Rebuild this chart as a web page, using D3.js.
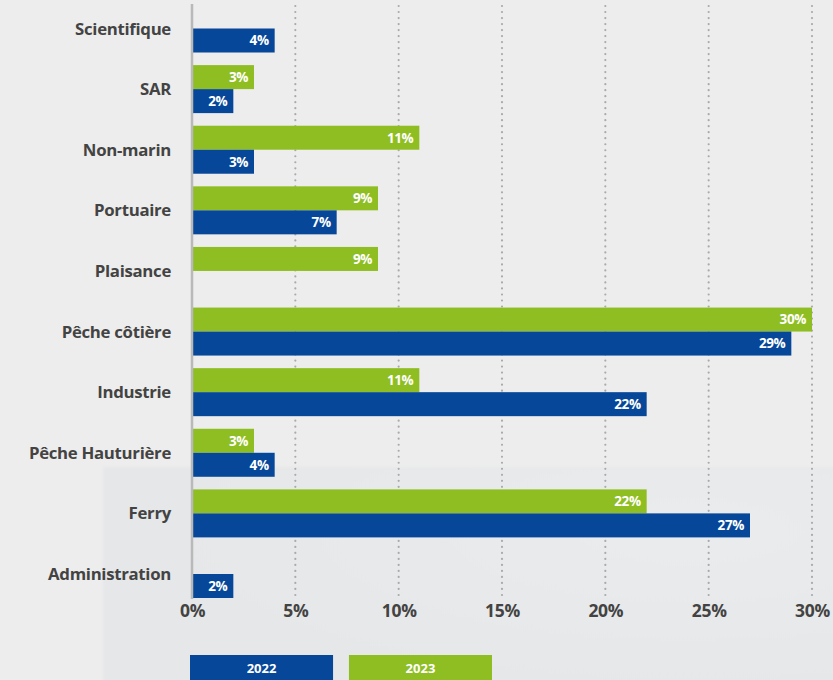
<!DOCTYPE html>
<html>
<head>
<meta charset="utf-8">
<script src="https://cdn.jsdelivr.net/npm/d3@7"></script>
<style>
  html, body { margin: 0; padding: 0; background: #ededed; }
  svg { display: block; }
  text { font-family: "Open Sans", "Noto Sans", sans-serif; font-weight: 700; }
</style>
</head>
<body>
<svg id="chart" width="833" height="680"></svg>
<script>
// Répartition par secteur, 2022 et 2023 (en %)
const categories = ["Scientifique", "SAR", "Non-marin", "Portuaire", "Plaisance",
  "Pêche côtière", "Industrie", "Pêche Hauturière", "Ferry", "Administration"];
const values2023 = [null, 3, 11, 9, 9, 30, 11, 3, 22, null];
const values2022 = [4, 2, 3, 7, null, 29, 22, 4, 27, 2];
const years = ["2022", "2023"];
const xTicks = [0, 5, 10, 15, 20, 25, 30];

const blue = "#06479a";
const green = "#8fbe22";

const svg = d3.select("#chart");
const W = 833, H = 680;

// background with a faint panel in the lower part
const defs = svg.append("defs");
const grad = defs.append("radialGradient").attr("id", "haze")
  .attr("cx", "0.8").attr("cy", "0.3").attr("r", "0.7");
grad.append("stop").attr("offset", "0").attr("stop-color", "#eaebec");
grad.append("stop").attr("offset", "1").attr("stop-color", "#e6e7e8");
defs.append("filter").attr("id", "soft").append("feGaussianBlur").attr("stdDeviation", 1.5);
svg.append("rect").attr("width", W).attr("height", H).attr("fill", "#ededed");
svg.append("rect").attr("x", 103).attr("y", 467).attr("width", W - 100).attr("height", H - 464)
  .attr("fill", "url(#haze)").attr("filter", "url(#soft)");

const x = d3.scaleLinear().domain([0, 30]).range([192, 812]);
const y = d3.scaleBand().domain(categories).range([4.5, 598]).paddingInner(0.208).paddingOuter(0);
const sub = d3.scaleBand().domain(["2023", "2022"]).range([0, y.bandwidth()]);

// dotted vertical gridlines
svg.append("g").selectAll("line").data(xTicks.filter(d => d > 0)).join("line")
  .attr("x1", d => x(d)).attr("x2", d => x(d))
  .attr("y1", 6).attr("y2", 598)
  .attr("stroke", "#a9aaac").attr("stroke-width", 2.2)
  .attr("stroke-linecap", "round")
  .attr("stroke-dasharray", "0.01,6");

// bars
const rows = categories.map((c, i) => ({ c, v23: values2023[i], v22: values2022[i] }));
const series = [
  { key: "2023", color: green, get: d => d.v23 },
  { key: "2022", color: blue, get: d => d.v22 }
];
series.forEach(s => {
  const data = rows.filter(d => s.get(d) != null);
  const g = svg.append("g");
  g.selectAll("rect").data(data).join("rect")
    .attr("x", x(0))
    .attr("y", d => y(d.c) + sub(s.key))
    .attr("width", d => x(s.get(d)) - x(0))
    .attr("height", sub.bandwidth())
    .attr("fill", s.color);
  g.selectAll("text").data(data).join("text")
    .attr("x", d => x(s.get(d)) - 6)
    .attr("y", d => y(d.c) + sub(s.key) + sub.bandwidth() / 2)
    .attr("dy", "0.36em")
    .attr("text-anchor", "end")
    .attr("fill", "#ffffff")
    .attr("font-size", 13.5)
    .attr("letter-spacing", "-0.4")
    .text(d => s.get(d) + "%");
});

// vertical baseline
svg.append("line").attr("x1", x(0)).attr("x2", x(0)).attr("y1", 4).attr("y2", 599)
  .attr("stroke", "#b9b9b9").attr("stroke-width", 2.5);

// category labels
svg.append("g").selectAll("text").data(categories).join("text")
  .attr("x", 171)
  .attr("y", d => y(d) + y.bandwidth() / 2)
  .attr("dy", "0.36em")
  .attr("text-anchor", "end")
  .attr("fill", "#434343")
  .attr("font-size", 16.8)
  .attr("letter-spacing", "-0.3")
  .text(d => d);

// x axis tick labels
const xAxis = d3.axisBottom(x).tickValues(xTicks).tickFormat(d => d + "%").tickSize(0).tickPadding(0);
const ax = svg.append("g").attr("transform", "translate(0,605)").call(xAxis);
ax.select(".domain").remove();
ax.selectAll("text")
  .attr("fill", "#434343")
  .attr("font-size", 17.5)
  .attr("letter-spacing", "-0.3")
  .attr("font-family", "'Open Sans', sans-serif")
  .attr("font-weight", 700);

// legend
const legendX = d3.scaleBand().domain(years).range([190, 492]).paddingInner(0.1);
const lg = svg.append("g").selectAll("g").data(years).join("g");
lg.append("rect")
  .attr("x", d => legendX(d)).attr("y", 655)
  .attr("width", legendX.bandwidth()).attr("height", 30)
  .attr("fill", d => d === "2022" ? blue : green);
lg.append("text")
  .attr("x", d => legendX(d) + legendX.bandwidth() / 2)
  .attr("y", 668).attr("dy", "0.36em")
  .attr("text-anchor", "middle")
  .attr("fill", "#ffffff")
  .attr("font-size", 13)
  .text(d => d);
</script>
</body>
</html>
